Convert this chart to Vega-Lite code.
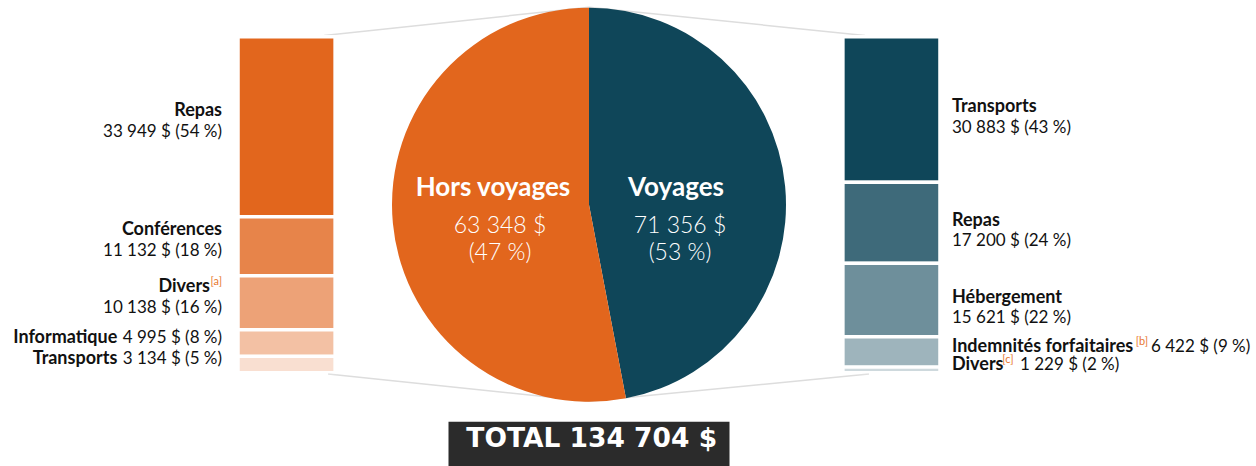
{
  "$schema": "https://vega.github.io/schema/vega-lite/v6.json",
  "padding": {"left": 0, "top": 5.75, "right": 0, "bottom": 0},
  "spacing": 49,
  "bounds": "flush",
  "center": true,
  "config": {"view": {"stroke": null}, "font": "Lato"},
  "datasets": {
    "detail": [
      {"group": "Hors voyages", "category": "Repas", "amount": 33949, "text": "33 949 $ (54 %)", "note": ""},
      {"group": "Hors voyages", "category": "Conférences", "amount": 11132, "text": "11 132 $ (18 %)", "note": ""},
      {"group": "Hors voyages", "category": "Divers", "amount": 10138, "text": "10 138 $ (16 %)", "note": "[a]"},
      {"group": "Hors voyages", "category": "Informatique", "amount": 4995, "text": "4 995 $ (8 %)", "note": ""},
      {"group": "Hors voyages", "category": "Transports", "amount": 3134, "text": "3 134 $ (5 %)", "note": ""},
      {"group": "Voyages", "category": "Transports", "amount": 30883, "text": "30 883 $ (43 %)", "note": ""},
      {"group": "Voyages", "category": "Repas", "amount": 17200, "text": "17 200 $ (24 %)", "note": ""},
      {"group": "Voyages", "category": "Hébergement", "amount": 15621, "text": "15 621 $ (22 %)", "note": ""},
      {"group": "Voyages", "category": "Indemnités forfaitaires", "amount": 6422, "text": "6 422 $ (9 %)", "note": "[b]"},
      {"group": "Voyages", "category": "Divers", "amount": 1229, "text": "1 229 $ (2 %)", "note": "[c]"}
    ],
    "pie": [
      {"group": "Voyages", "amount": 71356, "slice": 47, "label": "71 356 $\n(53 %)"},
      {"group": "Hors voyages", "amount": 63348, "slice": 53, "label": "63 348 $\n(47 %)"}
    ]
  },
  "vconcat": [
    {
      "width": 1178,
      "height": 336,
      "layer": [
        {
          "data": {"values": [{}]},
          "mark": {"type": "rule", "color": "#dddddd", "strokeWidth": 1.5},
          "encoding": {
            "x": {"datum": "Hors voyages", "bandPosition": 0.887},
            "y": {"datum": -0.004},
            "x2": {"datum": "Total"},
            "y2": {"datum": -0.0878}
          }
        },
        {
          "data": {"values": [{}]},
          "mark": {"type": "rule", "color": "#dddddd", "strokeWidth": 1.5},
          "encoding": {
            "x": {"datum": "Voyages", "bandPosition": 0.227},
            "y": {"datum": -0.004},
            "x2": {"datum": "Total"},
            "y2": {"datum": -0.0878}
          }
        },
        {
          "data": {"values": [{}]},
          "mark": {"type": "rule", "color": "#dddddd", "strokeWidth": 1.5},
          "encoding": {
            "x": {"datum": "Hors voyages", "bandPosition": 0.928},
            "y": {"datum": 1.004},
            "x2": {"datum": "Total"},
            "y2": {"datum": 1.0848}
          }
        },
        {
          "data": {"values": [{}]},
          "mark": {"type": "rule", "color": "#dddddd", "strokeWidth": 1.5},
          "encoding": {
            "x": {"datum": "Voyages", "bandPosition": 0.268},
            "y": {"datum": 1.004},
            "x2": {"datum": "Total"},
            "y2": {"datum": 1.0848}
          }
        },
        {
          "data": {"name": "pie"},
          "mark": {"type": "arc", "outerRadius": 197},
          "encoding": {
            "theta": {"field": "slice", "type": "quantitative"},
            "color": {"field": "group", "type": "nominal", "scale": {"domain": ["Hors voyages", "Voyages"], "range": ["#E2661D", "#0F4659"]}, "legend": null},
            "order": {"field": "group", "sort": "descending"}
          }
        },
        {
          "data": {"name": "pie"},
          "transform": [{"filter": "datum.group === 'Hors voyages'"}],
          "mark": {"type": "text", "dx": -96, "dy": -9, "fontWeight": "bold", "fontSize": 26, "color": "#ffffff", "baseline": "alphabetic"},
          "encoding": {"text": {"field": "group"}}
        },
        {
          "data": {"name": "pie"},
          "transform": [{"filter": "datum.group === 'Hors voyages'"}],
          "mark": {"type": "text", "dx": -89, "dy": 28.7, "fontWeight": 300, "fontSize": 23, "lineHeight": 27, "lineBreak": "\n", "color": "#ffffff", "baseline": "alphabetic"},
          "encoding": {"text": {"field": "label"}}
        },
        {
          "data": {"name": "pie"},
          "transform": [{"filter": "datum.group === 'Voyages'"}],
          "mark": {"type": "text", "dx": 87, "dy": -9, "fontWeight": "bold", "fontSize": 26, "color": "#ffffff", "baseline": "alphabetic"},
          "encoding": {"text": {"field": "group"}}
        },
        {
          "data": {"name": "pie"},
          "transform": [{"filter": "datum.group === 'Voyages'"}],
          "mark": {"type": "text", "dx": 91, "dy": 28.7, "fontWeight": 300, "fontSize": 23, "lineHeight": 27, "lineBreak": "\n", "color": "#ffffff", "baseline": "alphabetic"},
          "encoding": {"text": {"field": "label"}}
        },
        {
          "data": {"name": "detail"},
          "transform": [
            {"stack": "amount", "groupby": ["group"], "sort": [{"field": "amount", "order": "descending"}], "offset": "normalize", "as": ["y0", "y1"]},
            {"fold": ["y0", "y1"], "as": ["edge", "pos"]},
            {"aggregate": [{"op": "min", "field": "pos", "as": "s"}, {"op": "max", "field": "pos", "as": "e"}, {"op": "mean", "field": "pos", "as": "mid"}], "groupby": ["group", "category", "amount", "text", "note"]},
            {"window": [{"op": "row_number", "as": "rank"}], "sort": [{"field": "amount", "order": "descending"}], "groupby": ["group"]}
          ],
          "layer": [
            {
              "mark": {"type": "bar", "stroke": "#ffffff", "strokeWidth": 3.5},
              "encoding": {
                "x": {"field": "group", "type": "nominal", "scale": {"domain": ["Hors voyages", "Total", "Voyages"], "paddingInner": 0.679, "paddingOuter": 0.787}, "axis": null},
                "y": {"field": "s", "type": "quantitative", "scale": {"domain": [0, 1], "reverse": true, "nice": false, "zero": false}, "axis": null},
                "y2": {"field": "e"},
                "color": {"field": "group", "type": "nominal", "legend": null},
                "opacity": {"field": "rank", "type": "quantitative", "scale": {"domain": [1, 5], "range": [1, 0.2]}, "legend": null}
              }
            },
            {
              "transform": [{"filter": "datum.group === 'Hors voyages' && (datum.category === 'Repas' || datum.category === 'Conférences')"}],
              "mark": {"type": "text", "align": "right", "baseline": "alphabetic", "dx": -16, "dy": -11, "fontWeight": "bold", "fontSize": 18, "color": "#111111"},
              "encoding": {"x": {"field": "group", "type": "nominal", "bandPosition": 0}, "y": {"field": "mid", "type": "quantitative"}, "text": {"field": "category"}}
            },
            {
              "transform": [{"filter": "datum.group === 'Hors voyages' && datum.category === 'Divers'"}],
              "mark": {"type": "text", "align": "right", "baseline": "alphabetic", "dx": -28, "dy": -11, "fontWeight": "bold", "fontSize": 18, "color": "#111111"},
              "encoding": {"x": {"field": "group", "type": "nominal", "bandPosition": 0}, "y": {"field": "mid", "type": "quantitative"}, "text": {"field": "category"}}
            },
            {
              "transform": [{"filter": "datum.group === 'Hors voyages' && datum.note !== ''"}],
              "mark": {"type": "text", "align": "right", "baseline": "alphabetic", "dx": -16, "dy": -18, "fontSize": 11, "color": "#E8772F"},
              "encoding": {"x": {"field": "group", "type": "nominal", "bandPosition": 0}, "y": {"field": "mid", "type": "quantitative"}, "text": {"field": "note"}}
            },
            {
              "transform": [{"filter": "datum.group === 'Hors voyages' && (datum.category === 'Repas' || datum.category === 'Conférences' || datum.category === 'Divers')"}],
              "mark": {"type": "text", "align": "right", "baseline": "alphabetic", "dx": -16, "dy": 10, "fontSize": 17, "color": "#111111"},
              "encoding": {"x": {"field": "group", "type": "nominal", "bandPosition": 0}, "y": {"field": "mid", "type": "quantitative"}, "text": {"field": "text"}}
            },
            {
              "transform": [{"filter": "datum.group === 'Hors voyages' && (datum.category === 'Informatique' || datum.category === 'Transports')"}],
              "mark": {"type": "text", "align": "right", "baseline": "alphabetic", "dx": -16, "dy": 0, "fontSize": 17, "color": "#111111"},
              "encoding": {"x": {"field": "group", "type": "nominal", "bandPosition": 0}, "y": {"field": "mid", "type": "quantitative"}, "text": {"field": "text"}}
            },
            {
              "transform": [{"filter": "datum.group === 'Hors voyages' && (datum.category === 'Informatique' || datum.category === 'Transports')"}],
              "mark": {"type": "text", "align": "right", "baseline": "alphabetic", "dx": -120.7, "dy": 0, "fontWeight": "bold", "fontSize": 18, "color": "#111111"},
              "encoding": {"x": {"field": "group", "type": "nominal", "bandPosition": 0}, "y": {"field": "mid", "type": "quantitative"}, "text": {"field": "category"}}
            },
            {
              "transform": [{"filter": "datum.group === 'Voyages' && (datum.category === 'Transports' || datum.category === 'Repas' || datum.category === 'Hébergement')"}],
              "mark": {"type": "text", "align": "left", "baseline": "alphabetic", "dx": 12, "dy": 3, "fontWeight": "bold", "fontSize": 18, "color": "#111111"},
              "encoding": {"x": {"field": "group", "type": "nominal", "bandPosition": 1}, "y": {"field": "mid", "type": "quantitative"}, "text": {"field": "category"}}
            },
            {
              "transform": [{"filter": "datum.group === 'Voyages' && (datum.category === 'Transports' || datum.category === 'Repas' || datum.category === 'Hébergement')"}],
              "mark": {"type": "text", "align": "left", "baseline": "alphabetic", "dx": 12, "dy": 23.5, "fontSize": 17, "color": "#111111"},
              "encoding": {"x": {"field": "group", "type": "nominal", "bandPosition": 1}, "y": {"field": "mid", "type": "quantitative"}, "text": {"field": "text"}}
            },
            {
              "transform": [{"filter": "datum.group === 'Voyages' && (datum.category === 'Indemnités forfaitaires' || datum.category === 'Divers')"}],
              "mark": {"type": "text", "align": "left", "baseline": "alphabetic", "dx": 12, "dy": 0, "fontWeight": "bold", "fontSize": 18, "color": "#111111"},
              "encoding": {"x": {"field": "group", "type": "nominal", "bandPosition": 1}, "y": {"field": "mid", "type": "quantitative"}, "text": {"field": "category"}}
            },
            {
              "transform": [{"filter": "datum.group === 'Voyages' && datum.category === 'Indemnités forfaitaires'"}],
              "mark": {"type": "text", "align": "left", "baseline": "alphabetic", "dx": 195.7, "dy": -7, "fontSize": 11, "color": "#E8772F"},
              "encoding": {"x": {"field": "group", "type": "nominal", "bandPosition": 1}, "y": {"field": "mid", "type": "quantitative"}, "text": {"field": "note"}}
            },
            {
              "transform": [{"filter": "datum.group === 'Voyages' && datum.category === 'Divers'"}],
              "mark": {"type": "text", "align": "left", "baseline": "alphabetic", "dx": 62.3, "dy": -7, "fontSize": 11, "color": "#E8772F"},
              "encoding": {"x": {"field": "group", "type": "nominal", "bandPosition": 1}, "y": {"field": "mid", "type": "quantitative"}, "text": {"field": "note"}}
            },
            {
              "transform": [{"filter": "datum.group === 'Voyages' && datum.category === 'Indemnités forfaitaires'"}],
              "mark": {"type": "text", "align": "left", "baseline": "alphabetic", "dx": 211, "dy": 0, "fontSize": 17, "color": "#111111"},
              "encoding": {"x": {"field": "group", "type": "nominal", "bandPosition": 1}, "y": {"field": "mid", "type": "quantitative"}, "text": {"field": "text"}}
            },
            {
              "transform": [{"filter": "datum.group === 'Voyages' && datum.category === 'Divers'"}],
              "mark": {"type": "text", "align": "left", "baseline": "alphabetic", "dx": 80, "dy": 0, "fontSize": 17, "color": "#111111"},
              "encoding": {"x": {"field": "group", "type": "nominal", "bandPosition": 1}, "y": {"field": "mid", "type": "quantitative"}, "text": {"field": "text"}}
            }
          ]
        }
      ]
    },
    {
      "width": 281,
      "height": 45,
      "data": {"values": [{"label": "TOTAL 134 704 $"}]},
      "layer": [
        {"mark": {"type": "rect", "color": "#2b2b2b"}, "encoding": {}},
        {"mark": {"type": "text", "color": "#ffffff", "font": "DejaVu Sans", "fontSize": 26.5, "fontWeight": "bold", "baseline": "alphabetic", "dy": 2.5, "dx": 2.7}, "encoding": {"text": {"field": "label"}}}
      ]
    }
  ]
}
